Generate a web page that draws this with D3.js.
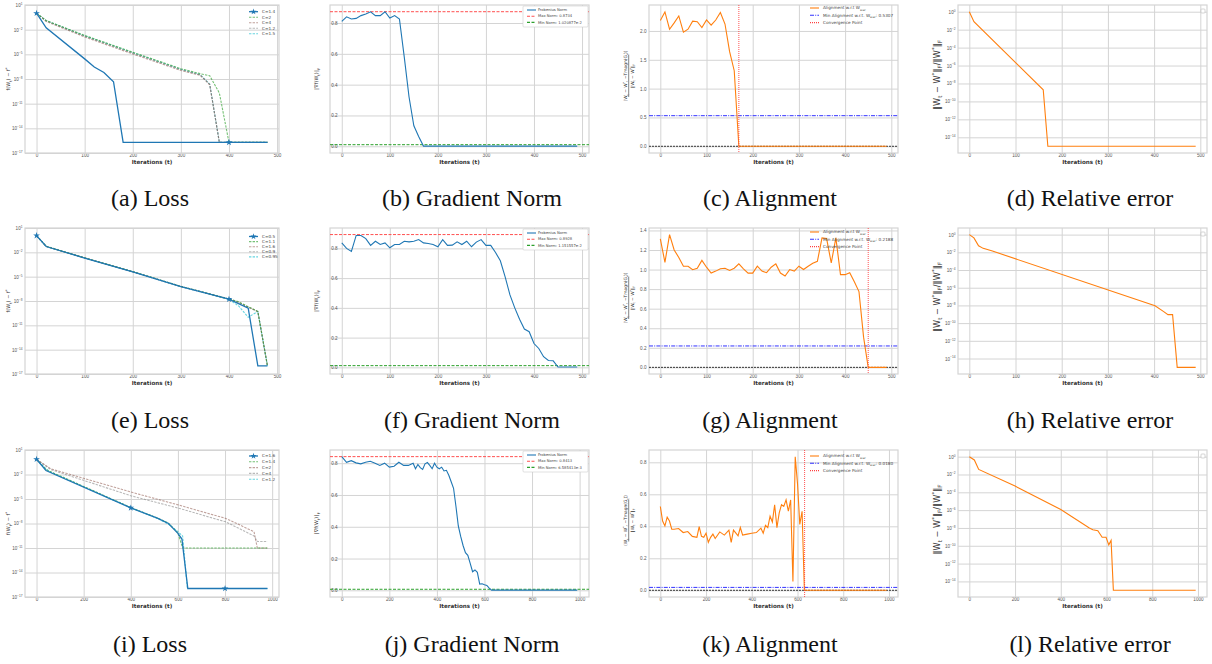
<!DOCTYPE html>
<html>
<head>
<meta charset="utf-8">
<script src="https://cdn.jsdelivr.net/npm/d3@7"></script>
<style>
  body { margin: 0; background: #fff; }
  svg { display: block; font-family: "DejaVu Sans", sans-serif; }
</style>
</head>
<body>
<svg width="1212" height="664"></svg>
<script>
// ---------- data ----------
var iterTicks500 = [0, 100, 200, 300, 400, 500];
var iterTicks1000 = [0, 200, 400, 600, 800, 1000];
var lossTicks = [1e1, 1e-2, 1e-5, 1e-8, 1e-11, 1e-14, 1e-17];
var relTicks = [1e0, 1e-2, 1e-4, 1e-6, 1e-8, 1e-10, 1e-12, 1e-14];
var normTicks = [0, 0.2, 0.4, 0.6, 0.8];
var alignTicksC = [0, 0.5, 1.0, 1.5, 2.0];
var alignTicksG = [0, 0.2, 0.4, 0.6, 0.8, 1.0, 1.2, 1.4];
var alignTicksK = [0, 0.2, 0.4, 0.6, 0.8];
var captions = ["(a) Loss", "(b) Gradient Norm", "(c) Alignment", "(d) Relative error",
                "(e) Loss", "(f) Gradient Norm", "(g) Alignment", "(h) Relative error",
                "(i) Loss", "(j) Gradient Norm", "(k) Alignment", "(l) Relative error"];

// (a) loss, five step sizes
var lossA_labels = ["C=1.4", "C=2", "C=4", "C=1.2", "C=1.5"];
var lossA_c14 = [[0,1],[20,1.7e-2],[100,2.8e-6],[120,2.9e-7],[140,6.2e-8],[160,4.7e-9],[180,2e-16],[400,2e-16],[480,2e-16]];
var lossA_c2  = [[0,1],[20,1.3e-1],[100,2e-3],[200,1.8e-5],[300,1.8e-7],[340,4.5e-8],[360,2.5e-8],[380,2e-10],[400,2e-16],[480,2e-16]];
var lossA_c4  = [[0,1],[20,1e-1],[100,1.3e-3],[200,1.1e-5],[300,1.1e-7],[340,2.8e-8],[360,2e-9],[380,2e-16],[480,2e-16]];
var lossA_c12 = [[0,1],[20,1.2e-1],[100,1.6e-3],[200,1.4e-5],[300,1.4e-7],[340,3.2e-8],[360,2.2e-9],[380,2e-16],[480,2e-16]];
var lossA_c15 = [[0,1],[20,1.25e-1],[100,1.8e-3],[200,1.6e-5],[300,1.5e-7],[340,3.5e-8],[360,2.4e-9],[380,2e-16],[480,2e-16]];

// (e) loss
var lossE_labels = ["C=0.5", "C=1.1", "C=1.6", "C=0.9", "C=0.95"];
var lossE_c05  = [[0,1.15],[20,5.2e-2],[100,2e-3],[200,4e-5],[300,5.9e-7],[400,1.66e-8],[440,1.3e-9],[460,1e-16],[480,1e-16]];
var lossE_c11  = [[0,1.15],[20,5.6e-2],[100,2.1e-3],[200,4.2e-5],[300,6.5e-7],[400,1.8e-8],[420,8e-9],[440,2e-9],[460,5.2e-10],[480,1e-16]];
var lossE_c16  = [[0,1.15],[20,5.5e-2],[100,2.1e-3],[200,4.1e-5],[300,6.3e-7],[400,1.8e-8],[420,7e-9],[440,1.8e-9],[460,5e-10],[480,1e-16]];
var lossE_c09  = [[0,1.15],[20,5.3e-2],[100,2e-3],[200,4e-5],[300,6e-7],[400,1.7e-8],[420,6e-9],[440,1.6e-9],[460,4.8e-10],[480,1e-16]];
var lossE_c095 = [[0,1.15],[20,5.4e-2],[100,2e-3],[200,4.1e-5],[300,6.1e-7],[400,1.6e-8],[420,2.5e-9],[440,1e-10],[460,5e-10],[480,1e-16]];

// (i) loss
var lossI_labels = ["C=1.6", "C=1.4", "C=2", "C=4", "C=1.2"];
var lossI_c16 = [[0,0.74],[40,3.1e-2],[400,8.1e-7],[515,4.2e-8],[560,1e-8],[600,6.3e-10],[617,1.26e-10],[642,1.1e-16],[800,1.1e-16],[980,1.1e-16]];
var lossI_c14 = [[0,0.74],[40,4e-2],[400,9e-7],[515,4.5e-8],[560,1.1e-8],[600,7e-10],[620,1e-11],[980,1e-11]];
var lossI_c2  = [[0,0.74],[60,5e-2],[400,7.2e-5],[607,1.7e-6],[803,4.2e-8],[923,1e-9],[937,1e-11],[980,1e-11]];
var lossI_c4  = [[0,0.74],[60,4e-2],[400,2.5e-5],[607,7e-7],[803,1.6e-8],[923,3e-10],[937,6.3e-11],[980,6.3e-11]];
var lossI_c12 = [[0,0.74],[20,2e-1],[40,5e-2],[60,2e-2],[400,8.5e-7],[515,4e-8],[560,8e-9],[580,3e-9],[600,1e-9],[620,3e-10],[640,1.1e-16],[980,1.1e-16]];

// gradient norms
var gradB = [[0,.811],[10,.84],[20,.826],[30,.83],[40,.848],[50,.858],[60,.873],[70,.848],[80,.848],[90,.873],
             [100,.832],[110,.848],[120,.826],[130,.58],[140,.32],[150,.133],[160,.064],[170,.001],[490,.001]];
var gradB_max = 0.8734, gradB_min = 1.020877e-02;
var gradF = [[0,.837],[10,.80],[20,.78],[30,.887],[40,.887],[50,.866],[60,.82],[70,.848],[80,.826],[90,.837],
             [100,.804],[110,.826],[120,.826],[130,.848],[140,.844],[150,.848],[160,.859],[170,.837],[180,.833],[190,.826],
             [200,.811],[210,.859],[220,.82],[230,.822],[240,.844],[250,.826],[260,.848],[270,.811],[280,.842],[290,.859],
             [300,.82],[310,.82],[320,.772],[330,.717],[340,.608],[350,.487],[360,.40],[370,.323],[380,.258],[390,.24],
             [400,.16],[410,.127],[420,.072],[430,.046],[440,.044],[450,.002],[490,.002]];
var gradF_max = 0.8928, gradF_min = 1.151557e-02;
var gradJ = [[0,.841],[20,.806],[40,.816],[60,.802],[80,.796],[100,.806],[120,.812],[140,.80],[160,.786],[180,.80],
             [200,.775],[220,.781],[240,.806],[260,.786],[280,.786],[300,.80],[310,.765],[320,.792],[330,.772],[340,.761],
             [350,.796],[360,.804],[370,.786],[380,.765],[390,.80],[400,.775],[410,.765],[420,.775],[430,.751],[440,.755],
             [450,.724],[460,.683],[470,.642],[480,.529],[490,.405],[500,.339],[510,.282],[520,.237],[530,.22],[540,.169],
             [550,.117],[560,.128],[570,.113],[580,.039],[590,.041],[600,.035],[610,.031],[620,.014],[630,.001],[990,.001]];
var gradJ_max = 0.8413, gradJ_min = 6.585413e-03;

// alignment
var alignC = [[0,2.18],[10,2.33],[20,2.03],[30,2.14],[40,2.26],[50,1.98],[60,2.03],[70,2.17],[80,2.16],[90,2.06],
              [100,2.19],[110,2.10],[120,2.19],[130,2.32],[140,2.12],[150,1.64],[160,1.31],[170,0.0],[490,0.0]];
var alignC_min = 0.5307, convC = 170;
var alignG = [[0,1.314],[10,1.074],[20,1.357],[30,1.20],[40,1.124],[50,1.034],[60,1.034],[70,0.998],[80,1.014],[90,1.094],
              [100,1.024],[110,0.964],[120,0.984],[130,1.008],[140,1.014],[150,0.991],[160,1.014],[170,1.058],[180,1.008],[190,0.964],
              [200,0.964],[210,1.034],[220,0.984],[230,0.968],[240,1.024],[250,1.058],[260,0.964],[270,0.934],[280,1.0],[290,0.984],
              [300,1.034],[310,1.0],[320,1.034],[330,1.064],[340,1.084],[350,1.324],[360,1.317],[370,1.067],[380,1.324],[390,0.948],
              [400,0.948],[410,0.968],[420,0.875],[430,0.775],[440,0.309],[450,0.0],[490,0.0]];
var alignG_min = 0.2188, convG = 450;
var alignK = [[0,.524],[10,.433],[20,.402],[30,.457],[40,.433],[50,.382],[60,.382],[80,.386],[100,.361],[120,.367],
              [140,.337],[160,.331],[170,.398],[180,.337],[190,.331],[200,.357],[210,.30],[220,.331],[230,.351],[240,.324],
              [260,.365],[280,.345],[300,.376],[310,.30],[320,.376],[340,.341],[350,.392],[360,.345],[380,.351],[400,.357],
              [420,.361],[440,.388],[450,.357],[460,.406],[470,.392],[480,.463],[490,.427],[500,.535],[510,.392],[520,.484],
              [530,.535],[540,.524],[550,.565],[560,.494],[570,.565],[580,.055],[590,.835],[600,.667],[610,.412],[620,.494],
              [630,0.0],[990,0.0]];
var alignK_min = 0.0180, convK = 631;

// relative error
var relD = [[0,1],[10,7.8e-2],[160,2e-9],[170,1e-15],[490,1e-15]];
var relH = [[0,1],[10,4.3e-1],[20,5.4e-2],[30,2.8e-2],[50,1.4e-2],[402,9.1e-9],[420,2.1e-9],[430,9.1e-10],[440,9.1e-10],[450,1e-15],[490,1e-15]];
var relL = [[0,1],[22,4.3e-1],[41,3.7e-2],[200,5e-4],[400,1.2e-6],[525,1e-8],[540,6.3e-9],[562,5e-9],[581,8.9e-10],
            [598,8.9e-10],[610,1.26e-10],[620,4e-10],[630,1e-15],[990,1e-15]];

// ---------- drawing ----------
var svg = d3.select("svg");
var GRID = "#d4d4d4";
var TICK_FS = 4.6;
var clipId = 0;

// text with _{sub} and ^{sup} parts
function rich(sel, s, fs) {
  var re = /([_^])\{([^}]*)\}/g, last = 0, m, pend = 0;
  function add(txt, size) {
    var t = sel.append("tspan").text(txt);
    if (pend) { t.attr("dy", pend); pend = 0; }
    if (size) t.attr("font-size", size);
  }
  while ((m = re.exec(s))) {
    if (m.index > last) add(s.slice(last, m.index));
    var sh = m[1] === "_" ? fs * 0.3 : -fs * 0.45;
    pend += sh;
    add(m[2], fs * 0.7);
    pend = -sh;
    last = re.lastIndex;
  }
  if (last < s.length) add(s.slice(last));
}

function makeAxes(b) {
  var x = d3.scaleLinear().domain(b.xDom).range([b.x0, b.x1]);
  var y = (b.log ? d3.scaleLog() : d3.scaleLinear()).domain(b.yDom).range([b.y1, b.y0]);
  var g = svg.append("g");
  g.append("rect")
    .attr("x", b.x0).attr("y", b.y0)
    .attr("width", b.x1 - b.x0).attr("height", b.y1 - b.y0)
    .attr("fill", "#fff");

  var xa = g.append("g").attr("transform", "translate(0," + b.y1 + ")")
    .call(d3.axisBottom(x).tickValues(b.xTicks).tickSize(-(b.y1 - b.y0)).tickPadding(1.2).tickFormat(d3.format("d")));
  var ya = g.append("g").attr("transform", "translate(" + b.x0 + ",0)")
    .call(d3.axisLeft(y).tickValues(b.yTicks).tickSize(-(b.x1 - b.x0)).tickPadding(b.yPad == null ? 2.5 : b.yPad)
      .tickFormat(b.log ? function() { return "10"; } : d3.format(".1f")));
  [xa, ya].forEach(function(a) {
    a.select(".domain").remove();
    a.selectAll("line").attr("stroke", GRID).attr("stroke-width", 1);
    a.selectAll("text").attr("font-size", TICK_FS).attr("fill", "#555");
  });
  if (b.log) {
    ya.selectAll(".tick text").each(function(d) {
      var e = Math.round(Math.log10(d));
      var t = d3.select(this);
      t.text(null);
      rich(t, "10^{" + (e < 0 ? "\u2212" + (-e) : e) + "}", TICK_FS);
    });
  }
  g.append("rect")
    .attr("x", b.x0).attr("y", b.y0)
    .attr("width", b.x1 - b.x0).attr("height", b.y1 - b.y0)
    .attr("fill", "none").attr("stroke", GRID).attr("stroke-width", 1.2);

  var id = "clip" + (clipId++);
  g.append("clipPath").attr("id", id).append("rect")
    .attr("x", b.x0).attr("y", b.y0).attr("width", b.x1 - b.x0).attr("height", b.y1 - b.y0);
  var plot = g.append("g").attr("clip-path", "url(#" + id + ")");

  g.append("text").attr("x", (b.x0 + b.x1) / 2).attr("y", b.y1 + 11)
    .attr("text-anchor", "middle").attr("font-size", 5.6).attr("font-weight", "bold").attr("fill", "#333")
    .text("Iterations (t)");
  return { g: g, plot: plot, x: x, y: y, b: b };
}

function drawLine(ax, data, st) {
  var line = d3.line().x(function(d) { return ax.x(d[0]); }).y(function(d) { return ax.y(d[1]); });
  ax.plot.append("path").datum(data)
    .attr("d", line).attr("fill", "none")
    .attr("stroke", st.color).attr("stroke-width", st.width || 1.1)
    .attr("stroke-opacity", st.opacity || 1)
    .attr("stroke-dasharray", st.dash || null);
  if (st.markEvery) {
    ax.plot.selectAll(null).data(data.filter(function(d) { return d[0] % st.markEvery === 0; }))
      .join("path")
      .attr("transform", function(d) { return "translate(" + ax.x(d[0]) + "," + ax.y(d[1]) + ")"; })
      .attr("d", d3.symbol(d3.symbolStar, 14))
      .attr("fill", st.color);
  }
}

function hline(ax, v, st) {
  ax.plot.append("line")
    .attr("x1", ax.b.x0).attr("x2", ax.b.x1).attr("y1", ax.y(v)).attr("y2", ax.y(v))
    .attr("stroke", st.color).attr("stroke-width", st.width || 1).attr("stroke-dasharray", st.dash || null);
}
function vline(ax, v, st) {
  ax.plot.append("line")
    .attr("y1", ax.b.y0).attr("y2", ax.b.y1).attr("x1", ax.x(v)).attr("x2", ax.x(v))
    .attr("stroke", st.color).attr("stroke-width", st.width || 1).attr("stroke-dasharray", st.dash || null);
}

function legend(ax, items, lx, ly, dy, frame, fs, gap) {
  var g = ax.g.append("g");
  fs = fs || 4.2;
  gap = gap || 13;
  if (frame) {
    g.append("rect").attr("x", frame[0]).attr("y", frame[1]).attr("width", frame[2]).attr("height", frame[3])
      .attr("rx", 1).attr("fill", "#fff").attr("stroke", "#ccc").attr("stroke-width", 0.6);
  }
  items.forEach(function(it, i) {
    var yy = ly + i * dy;
    g.append("line").attr("x1", lx).attr("x2", lx + 9).attr("y1", yy).attr("y2", yy)
      .attr("stroke", it.color).attr("stroke-width", it.width || 1.1)
      .attr("stroke-opacity", it.opacity || 1).attr("stroke-dasharray", it.dash || null);
    if (it.marker) {
      g.append("path").attr("transform", "translate(" + (lx + 4.5) + "," + yy + ")")
        .attr("d", d3.symbol(d3.symbolStar, 12)).attr("fill", it.color);
    }
    var t = g.append("text").attr("x", lx + gap).attr("y", yy + fs * 0.34).attr("font-size", fs).attr("fill", "#444");
    rich(t, it.label, fs);
  });
}

function emptyLegend(ax, x, y) {
  ax.g.append("rect").attr("x", x).attr("y", y).attr("width", 4).attr("height", 4)
    .attr("rx", 0.8).attr("fill", "#fff").attr("stroke", "#bbb").attr("stroke-width", 0.6);
}

function yLabel(ax, x, y, s, fs, bold) {
  var t = ax.g.append("text").attr("transform", "translate(" + x + "," + y + ") rotate(-90)")
    .attr("text-anchor", "middle").attr("font-size", fs).attr("fill", "#333")
    .attr("font-weight", bold ? "bold" : null);
  rich(t, s, fs);
}

function fracLabel(ax, x, y) {
  var g = ax.g.append("g").attr("transform", "translate(" + x + "," + y + ") rotate(-90)");
  var fs = 4.4;
  var n = g.append("text").attr("y", -1.8).attr("text-anchor", "middle").attr("font-size", fs).attr("fill", "#333");
  rich(n, "\u27E8W_{t} \u2212 W^{*}, \u2212Tmagn(G_{t})\u27E9", fs);
  g.append("line").attr("x1", -21).attr("x2", 21).attr("y1", -0.3).attr("y2", -0.3).attr("stroke", "#333").attr("stroke-width", 0.6);
  var d = g.append("text").attr("y", 4.6).attr("text-anchor", "middle").attr("font-size", fs).attr("fill", "#333");
  rich(d, "\u2016W_{t} \u2212 W^{*}\u2016_{F}", fs);
}

var BLUE = "#1f77b4", ORANGE = "#ff7f0e", GREEN = "#2ca02c", BROWN = "#8c564b", GREY = "#7f7f7f", CYAN = "#17becf";
var lossStyles = [
  { color: BLUE, width: 1.3, markEvery: 400, marker: true },
  { color: GREEN, dash: "2.4,1.2", opacity: 0.65 },
  { color: BROWN, dash: "2.4,1.2", opacity: 0.55 },
  { color: GREY, dash: "2.4,1.2", opacity: 0.55 },
  { color: CYAN, dash: "2.4,1.2", opacity: 0.65 }
];

var cols = [[25, 279], [330, 589], [649, 898], [958, 1207]];
var rows = [[5, 153], [228, 374], [450, 597]];
var capX = [150, 472, 770, 1090];
var capY = [206, 428, 652];

function lossPanel(r, xDom, xTicks, series, labels, legY, legDy) {
  var ax = makeAxes({ x0: cols[0][0], x1: cols[0][1], y0: rows[r][0], y1: rows[r][1], xDom: xDom, xTicks: xTicks,
    log: true, yDom: [1e-17, 10], yTicks: lossTicks });
  series.slice().reverse().forEach(function(s, k) { drawLine(ax, s, lossStyles[series.length - 1 - k]); });
  legend(ax, labels.map(function(l, i) { return Object.assign({ label: l }, lossStyles[i]); }), 249, legY, legDy, null, 4.2, 13);
  yLabel(ax, 10, (rows[r][0] + rows[r][1]) / 2, "f(W_{t}) \u2212 f^{*}", 5, false);
  return ax;
}

function gradPanel(r, xDom, xTicks, data, yDom, mx, mn, fy) {
  // this column has its y tick labels just inside the frame
  var ax = makeAxes({ x0: cols[1][0], x1: cols[1][1], y0: rows[r][0], y1: rows[r][1], xDom: xDom, xTicks: xTicks,
    log: false, yDom: yDom, yTicks: normTicks, yPad: -7.6 });
  hline(ax, mx, { color: "#ff5050", dash: "3,1.5", width: 1 });
  hline(ax, mn, { color: GREEN, dash: "3,1.5", width: 1 });
  drawLine(ax, data, { color: BLUE, width: 1.1 });
  legend(ax, [
    { label: "Frobenius Norm", color: BLUE },
    { label: "Max Norm: " + mx.toFixed(4), color: "#ff5050", dash: "3,1.5" },
    { label: "Min Norm: " + mn.toExponential(6), color: GREEN, dash: "3,1.5" }
  ], 527, fy + 4, 6.2, [523, fy, 65, 21], 3.7, 11);
  yLabel(ax, 318, (rows[r][0] + rows[r][1]) / 2, "\u2016\u2207f(W_{t})\u2016_{F}", 5, false);
  return ax;
}

function alignPanel(r, xDom, xTicks, data, yDom, yTicks, mn, conv, ly) {
  var ax = makeAxes({ x0: cols[2][0], x1: cols[2][1], y0: rows[r][0], y1: rows[r][1], xDom: xDom, xTicks: xTicks,
    log: false, yDom: yDom, yTicks: yTicks });
  hline(ax, 0, { color: "#222", dash: "2,1", width: 0.9 });
  hline(ax, mn, { color: "#3333ff", dash: "4,1.2,1,1.2", width: 1 });
  drawLine(ax, data, { color: ORANGE, width: 1.1 });
  vline(ax, conv, { color: "#ff4040", dash: "1,1", width: 0.9 });
  legend(ax, [
    { label: "Alignment w.r.t W_{star}", color: ORANGE },
    { label: "Min Alignment w.r.t. W_{star}: " + mn.toFixed(4), color: "#3333ff", dash: "4,1.2,1,1.2" },
    { label: "Convergence Point", color: "#ff4040", dash: "1,1" }
  ], 810, ly, 7.3, null, 4.2, 13);
  fracLabel(ax, 629, (rows[r][0] + rows[r][1]) / 2 - 3);
  return ax;
}

function relPanel(r, xDom, xTicks, data) {
  var ax = makeAxes({ x0: cols[3][0], x1: cols[3][1], y0: rows[r][0], y1: rows[r][1], xDom: xDom, xTicks: xTicks,
    log: true, yDom: [1.78e-16, 5.6], yTicks: relTicks });
  drawLine(ax, data, { color: ORANGE, width: 1.1 });
  emptyLegend(ax, 1201, rows[r][0] + 4);
  yLabel(ax, 940, (rows[r][0] + rows[r][1]) / 2 - 4, "\u2016W_{t} \u2212 W^{*}\u2016_{F}/\u2016W^{*}\u2016_{F}", 8.2, false);
  return ax;
}

var dom500 = [-24.5, 514.5], dom1000 = [-49.5, 1039.5];

lossPanel(0, [-24, 504], iterTicks500, [lossA_c14, lossA_c2, lossA_c4, lossA_c12, lossA_c15], lossA_labels, 11.7, 5.5);
gradPanel(0, dom500, iterTicks500, gradB, [-0.0437, 0.917], gradB_max, gradB_min, 6);
alignPanel(0, dom500, iterTicks500, alignC, [-0.1165, 2.45], alignTicksC, alignC_min, convC, 8);
relPanel(0, dom500, iterTicks500, relD);

lossPanel(1, [-24, 504], iterTicks500, [lossE_c05, lossE_c11, lossE_c16, lossE_c09, lossE_c095], lossE_labels, 236.5, 5.1);
gradPanel(1, dom500, iterTicks500, gradF, [-0.0446, 0.937], gradF_max, gradF_min, 229);
alignPanel(1, dom500, iterTicks500, alignG, [-0.068, 1.425], alignTicksG, alignG_min, convG, 232);
relPanel(1, dom500, iterTicks500, relH);

lossPanel(2, [-49, 1029], iterTicks1000, [lossI_c16, lossI_c14, lossI_c2, lossI_c4, lossI_c12], lossI_labels, 456, 5.8);
gradPanel(2, dom1000, iterTicks1000, gradJ, [-0.042, 0.883], gradJ_max, gradJ_min, 451);
alignPanel(2, dom1000, iterTicks1000, alignK, [-0.042, 0.877], alignTicksK, alignK_min, convK, 456);
relPanel(2, dom1000, iterTicks1000, relL);

svg.append("g").selectAll("text").data(captions).join("text")
  .attr("x", function(d, i) { return capX[i % 4]; })
  .attr("y", function(d, i) { return capY[Math.floor(i / 4)]; })
  .attr("text-anchor", "middle")
  .style("font-family", "'Liberation Serif', serif")
  .attr("font-size", 24)
  .attr("fill", "#111")
  .text(function(d) { return d; });
</script>
</body>
</html>
